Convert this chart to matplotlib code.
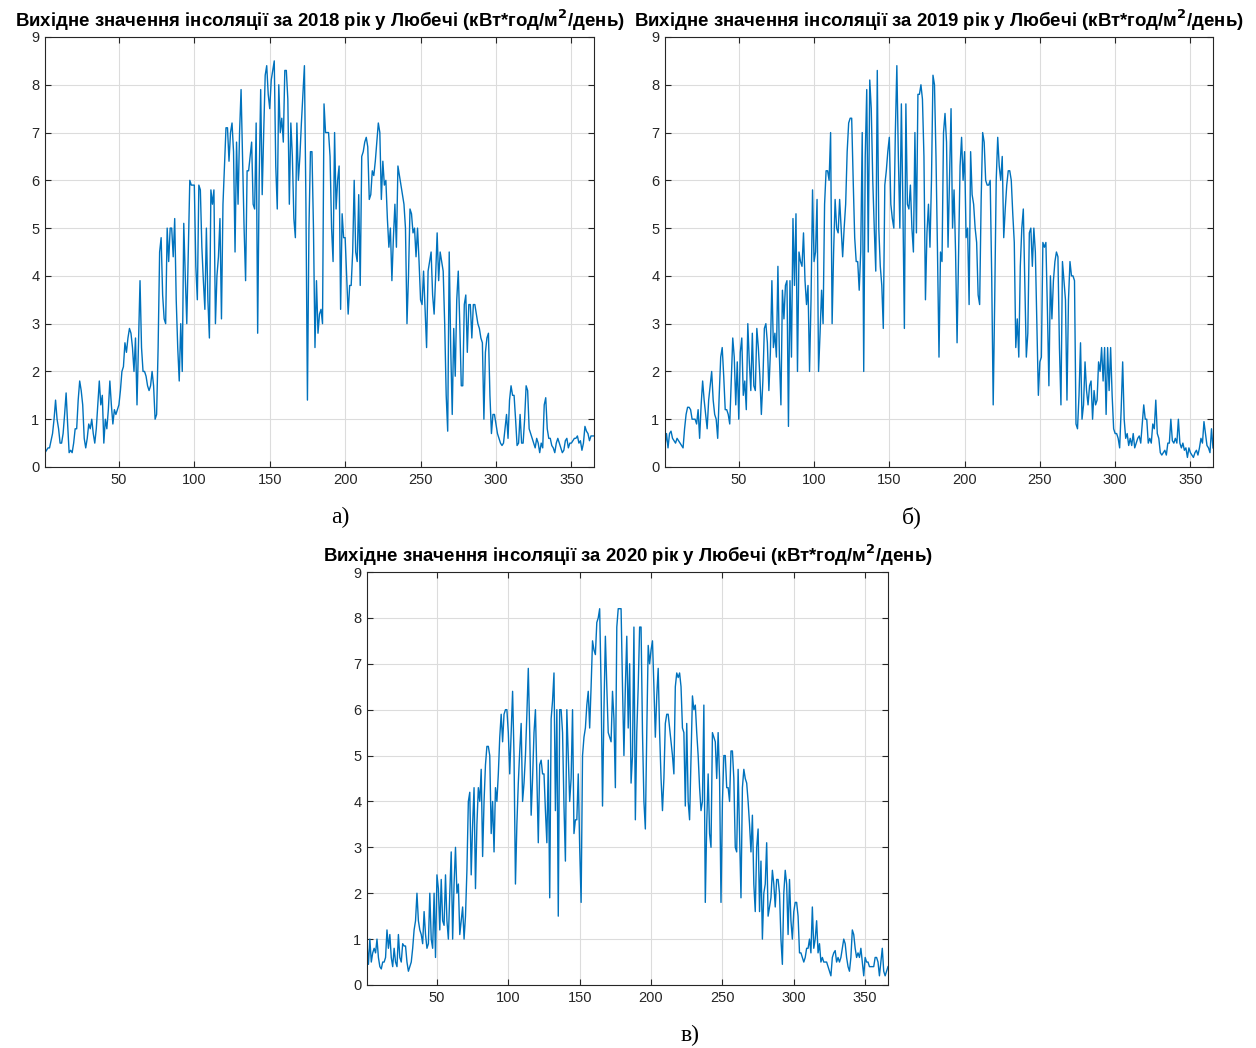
import numpy as np
import matplotlib
matplotlib.use("Agg")
import matplotlib.pyplot as plt

# --- Daily insolation, kWh/m^2/day ---
INS_2018 = [
    0.3, 0.35, 0.4, 0.4, 0.55, 0.7, 1.0, 1.4, 1.0, 0.8,
    0.5, 0.5, 0.7, 1.1, 1.55, 0.9, 0.3, 0.35, 0.3, 0.5,
    0.8, 0.8, 1.4, 1.8, 1.6, 1.3, 0.6, 0.4, 0.6, 0.9,
    0.8, 1.0, 0.7, 0.5, 0.8, 1.3, 1.8, 1.3, 1.5, 0.5,
    1.0, 0.8, 1.2, 1.8, 1.3, 0.9, 1.2, 1.1, 1.2, 1.3,
    1.6, 2.0, 2.1, 2.6, 2.4, 2.7, 2.9, 2.8, 2.5, 2.0,
    2.7, 1.3, 2.6, 3.9, 2.5, 2.0, 2.0, 1.9, 1.7, 1.6,
    1.7, 2.0, 1.7, 1.0, 1.1, 2.5, 4.5, 4.8, 3.6, 3.1,
    3.0, 5.0, 4.3, 5.0, 5.0, 4.4, 5.2, 3.5, 2.5, 1.8,
    3.0, 2.0, 5.1, 4.0, 3.0, 4.5, 6.0, 5.9, 5.9, 5.9,
    4.2, 3.5, 5.9, 5.8, 4.6, 3.9, 3.3, 5.0, 3.5, 2.7,
    5.8, 5.5, 5.8, 3.0, 4.0, 4.4, 5.2, 3.1, 5.5, 6.3,
    7.1, 7.1, 6.4, 7.0, 7.2, 6.6, 4.5, 6.8, 5.5, 7.0,
    7.9, 6.5, 5.0, 3.9, 6.2, 6.2, 6.5, 6.8, 5.5, 5.4,
    7.2, 2.8, 6.0, 7.9, 5.7, 7.0, 8.2, 8.4, 7.8, 7.5,
    8.1, 8.3, 8.5, 6.3, 5.4, 8.0, 7.0, 7.3, 6.8, 8.3,
    8.3, 7.7, 5.5, 7.2, 6.5, 5.2, 4.8, 7.2, 6.0, 6.5,
    7.2, 7.8, 8.4, 5.5, 1.4, 5.0, 6.6, 6.6, 5.0, 2.5,
    3.9, 2.8, 3.2, 3.3, 3.0, 7.6, 7.0, 7.0, 7.0, 6.5,
    5.0, 4.3, 7.0, 5.4, 6.0, 6.3, 3.3, 5.3, 4.8, 4.8,
    4.0, 3.2, 3.8, 3.8, 4.5, 6.0, 4.5, 4.3, 5.7, 3.8,
    6.5, 6.6, 6.8, 6.9, 6.7, 5.6, 5.7, 6.2, 6.1, 6.4,
    6.8, 7.2, 7.0, 5.6, 6.4, 5.9, 6.0, 5.2, 4.6, 5.0,
    3.9, 4.8, 5.5, 4.6, 6.3, 6.1, 5.9, 5.7, 5.5, 5.0,
    3.0, 4.0, 5.4, 5.3, 4.9, 5.0, 4.4, 5.0, 4.3, 3.5,
    3.4, 4.1, 3.3, 2.5, 4.1, 4.3, 4.5, 3.6, 3.2, 4.0,
    4.9, 3.9, 4.5, 4.3, 4.1, 3.0, 1.5, 0.75, 4.5, 2.5,
    1.1, 2.9, 1.9, 3.5, 4.1, 3.0, 1.7, 1.7, 3.4, 3.6,
    2.4, 3.4, 3.4, 2.7, 3.4, 3.4, 3.2, 3.0, 2.9, 2.7,
    2.6, 1.0, 2.4, 2.7, 2.8, 1.5, 0.7, 1.1, 1.1, 0.9,
    0.7, 0.6, 0.5, 0.45, 0.5, 0.8, 1.1, 0.6, 1.4, 1.7,
    1.5, 1.5, 1.0, 0.45, 0.5, 1.1, 0.5, 0.5, 1.0, 1.7,
    1.6, 0.8, 0.7, 0.6, 0.5, 0.4, 0.6, 0.5, 0.3, 0.5,
    0.4, 1.3, 1.45, 0.8, 0.6, 0.6, 0.45, 0.4, 0.3, 0.5,
    0.6, 0.5, 0.4, 0.3, 0.35, 0.55, 0.6, 0.4, 0.5, 0.5,
    0.55, 0.6, 0.6, 0.65, 0.5, 0.55, 0.35, 0.5, 0.85, 0.75,
    0.7, 0.55, 0.65, 0.65, 0.65,
]

INS_2019 = [
    0.45, 0.7, 0.4, 0.7, 0.75, 0.6, 0.55, 0.5, 0.6, 0.55,
    0.5, 0.45, 0.4, 0.8, 1.1, 1.25, 1.25, 1.2, 1.0, 1.0,
    1.0, 0.9, 1.2, 0.6, 1.3, 1.8, 1.4, 1.1, 0.8, 1.4,
    1.7, 2.0, 1.4, 1.1, 1.0, 0.6, 1.5, 2.3, 2.5, 1.9,
    1.2, 1.2, 1.1, 0.9, 1.8, 2.7, 2.3, 1.3, 2.2, 1.0,
    2.4, 2.7, 1.5, 1.8, 1.2, 3.0, 2.2, 1.6, 2.8, 1.7,
    1.6, 2.9, 2.5, 1.9, 1.1, 1.8, 2.9, 3.0, 2.6, 1.6,
    2.4, 3.9, 2.5, 2.8, 2.3, 4.2, 2.3, 1.3, 3.7, 3.1,
    3.8, 3.9, 0.85, 3.9, 2.3, 5.2, 3.8, 5.3, 2.0, 4.5,
    4.3, 4.2, 4.9, 3.9, 3.4, 3.8, 2.0, 3.5, 5.8, 4.3,
    4.5, 5.6, 2.0, 2.8, 3.7, 3.0, 5.5, 6.2, 6.2, 6.0,
    7.0, 3.0, 4.5, 5.6, 5.0, 4.9, 5.6, 5.0, 4.4, 5.0,
    5.5, 6.6, 7.2, 7.3, 7.3, 6.0, 4.8, 4.3, 4.3, 3.7,
    4.5, 7.0, 2.0, 6.5, 7.9, 4.5, 8.1, 7.5, 6.0, 5.0,
    4.1, 8.3, 5.0, 4.2, 3.8, 2.9, 5.9, 6.2, 6.6, 6.9,
    5.5, 5.2, 5.0, 7.0, 8.4, 6.5, 5.0, 7.6, 5.5, 2.9,
    7.6, 5.5, 5.4, 5.9, 5.0, 4.5, 7.0, 4.9, 7.8, 7.8,
    8.0, 7.7, 6.5, 3.5, 4.9, 5.5, 4.6, 6.0, 8.2, 8.0,
    6.5, 4.5, 2.3, 4.5, 4.3, 7.0, 7.4, 6.8, 4.6, 6.0,
    7.5, 5.0, 5.8, 4.5, 2.6, 4.5, 6.3, 6.9, 6.0, 6.6,
    4.8, 5.0, 3.4, 6.6, 5.7, 5.5, 5.0, 4.7, 3.6, 3.4,
    5.6, 7.0, 6.8, 6.0, 5.9, 5.9, 6.0, 4.0, 1.3, 3.5,
    6.0, 6.9, 6.3, 6.0, 6.5, 4.8, 5.4, 5.9, 6.2, 6.2,
    6.0, 5.3, 4.7, 2.5, 3.1, 2.3, 4.2, 5.0, 5.4, 3.8,
    2.3, 2.8, 4.9, 5.0, 4.2, 5.0, 4.5, 3.0, 1.5, 2.2,
    2.3, 4.7, 4.6, 4.7, 3.3, 1.7, 4.0, 3.1, 3.9, 4.3,
    4.5, 4.4, 2.5, 1.3, 4.3, 3.9, 3.5, 1.4, 3.5, 4.3,
    4.0, 4.0, 3.9, 0.9, 0.8, 1.5, 2.6, 1.0, 1.3, 2.2,
    1.6, 1.3, 1.7, 1.8, 1.0, 1.6, 1.3, 1.4, 2.2, 2.0,
    2.5, 1.8, 2.5, 1.1, 2.5, 1.6, 2.5, 1.5, 0.8, 0.7,
    0.7, 0.6, 0.4, 1.2, 2.2, 1.0, 0.6, 0.7, 0.45, 0.6,
    0.45, 0.7, 0.4, 0.5, 0.6, 0.65, 0.5, 0.9, 1.3, 1.0,
    1.0, 0.5, 0.6, 0.5, 0.9, 0.8, 1.4, 0.7, 0.6, 0.3,
    0.25, 0.3, 0.35, 0.25, 0.5, 0.5, 1.0, 0.55, 0.5, 0.6,
    0.5, 1.0, 0.5, 0.4, 0.5, 0.35, 0.4, 0.2, 0.4, 0.3,
    0.25, 0.2, 0.3, 0.35, 0.25, 0.4, 0.6, 0.5, 0.95, 0.7,
    0.45, 0.4, 0.3, 0.8, 0.4,
]

INS_2020 = [
    0.9, 0.45, 1.0, 0.5, 0.7, 0.8, 0.7, 1.0, 0.6, 0.4,
    0.35, 0.5, 0.5, 0.6, 1.2, 0.8, 1.1, 0.6, 0.4, 0.8,
    0.5, 0.4, 1.1, 0.6, 0.5, 0.9, 0.85, 0.85, 0.5, 0.3,
    0.4, 0.5, 0.8, 1.2, 1.4, 2.0, 1.4, 1.2, 1.1, 0.9,
    1.6, 1.1, 0.8, 0.9, 2.0, 1.0, 0.8, 2.0, 0.6, 2.4,
    2.1, 1.2, 2.3, 1.4, 1.3, 2.4, 1.4, 1.0, 2.0, 2.9,
    1.0, 2.2, 3.0, 2.0, 2.2, 1.1, 1.4, 1.7, 1.0, 1.5,
    2.5, 4.0, 4.2, 2.4, 3.5, 4.3, 2.1, 3.5, 4.3, 4.0,
    4.7, 2.8, 4.0, 4.8, 5.2, 5.2, 5.0, 3.3, 4.0, 2.9,
    4.3, 4.0, 4.6, 5.4, 5.9, 5.3, 5.9, 6.0, 6.0, 5.5,
    4.6, 5.5, 6.4, 5.0, 2.2, 3.5, 4.4, 5.1, 5.7, 4.0,
    4.4, 5.0, 5.9, 6.9, 5.5, 3.7, 4.5, 5.5, 6.0, 4.5,
    3.1, 4.8, 4.9, 4.6, 4.6, 3.8, 3.1, 4.9, 1.9, 5.8,
    6.2, 6.8, 3.8, 6.0, 1.5, 6.0, 6.0, 5.5, 3.9, 2.7,
    6.0, 5.0, 4.0, 4.5, 6.0, 3.3, 3.6, 3.6, 4.6, 3.0,
    1.8, 5.0, 5.4, 5.6, 6.1, 6.4, 5.6, 6.5, 7.5, 7.3,
    7.2, 7.9, 8.0, 8.2, 6.5, 3.9, 6.0, 7.6, 6.5, 5.5,
    5.4, 5.3, 6.4, 5.8, 4.3, 7.8, 8.2, 8.2, 8.2, 6.5,
    5.0, 6.5, 7.6, 5.6, 7.0, 4.4, 5.0, 7.8, 3.6, 5.5,
    6.5, 7.8, 7.8, 5.5, 4.0, 3.4, 5.5, 7.4, 7.0, 7.3,
    7.5, 6.5, 5.4, 6.3, 6.9, 5.5, 4.5, 3.8, 4.5, 5.7,
    5.9, 5.9, 5.6, 5.3, 5.0, 4.6, 6.5, 6.8, 6.7, 6.8,
    6.5, 5.6, 5.5, 3.9, 5.7, 4.0, 3.6, 5.0, 6.3, 6.0,
    6.1, 5.5, 5.0, 4.3, 3.8, 4.0, 6.1, 1.8, 3.5, 4.6,
    3.3, 3.0, 5.5, 5.4, 5.3, 4.5, 5.5, 4.5, 1.8, 4.0,
    5.0, 5.0, 4.3, 4.3, 4.0, 5.1, 5.1, 4.5, 3.0, 2.9,
    4.7, 3.3, 1.9, 4.3, 4.7, 4.5, 4.4, 4.0, 3.5, 2.9,
    3.7, 2.2, 1.6, 3.0, 3.4, 1.6, 2.7, 1.0, 2.0, 2.2,
    3.1, 1.5, 1.7, 1.9, 2.5, 2.2, 1.7, 2.3, 2.3, 2.0,
    1.0, 0.45, 2.0, 2.5, 2.2, 1.1, 2.3, 1.4, 1.0, 1.6,
    1.8, 1.8, 1.5, 0.7, 0.7, 0.6, 0.5, 0.6, 0.8, 0.8,
    1.0, 0.7, 1.7, 0.8, 1.0, 1.4, 0.7, 0.9, 0.5, 0.6,
    0.5, 0.5, 0.5, 0.4, 0.3, 0.2, 0.6, 0.7, 0.75, 0.5,
    0.6, 0.5, 0.6, 0.8, 1.0, 0.9, 0.6, 0.4, 0.3, 0.6,
    1.2, 1.1, 0.8, 0.6, 0.7, 0.6, 0.8, 0.5, 0.2, 0.6,
    0.5, 0.5, 0.4, 0.4, 0.4, 0.4, 0.6, 0.6, 0.5, 0.2,
    0.5, 0.8, 0.3, 0.2, 0.3, 0.4,
]

YEARS = [2018, 2019, 2020]
PANEL_LABELS = ["а)", "б)", "в)"]
X_TICKS = [50, 100, 150, 200, 250, 300, 350]
Y_TICKS = [0, 1, 2, 3, 4, 5, 6, 7, 8, 9]

LINE_COLOR = "#0072BD"
TEXT_COLOR = "#262626"

W, H = 1256, 1048
fig = plt.figure(figsize=(W / 100, H / 100), dpi=100)
plt.rcParams["font.family"] = ["Liberation Sans", "DejaVu Sans"]


def px_axes(left, top, right, bottom):
    return fig.add_axes([left / W, 1 - bottom / H, (right - left) / W, (bottom - top) / H])


boxes = [(45, 37, 594, 467), (665, 37, 1213, 467), (367, 572, 888, 985)]
label_pos = [(340, 517), (912, 517), (690, 1035)]

for year, series, box, lab, lpos in zip(YEARS, [INS_2018, INS_2019, INS_2020],
                                        boxes, PANEL_LABELS, label_pos):
    ax = px_axes(*box)
    days = np.arange(1, len(series) + 1)
    ax.plot(days, series, color=LINE_COLOR, lw=1.0)
    ax.set_xlim(1, len(series))
    ax.set_ylim(0, 9)
    ax.set_xticks(X_TICKS)
    ax.set_yticks(Y_TICKS)
    ax.grid(True, color="#dcdcdc", lw=0.8)
    ax.set_axisbelow(True)
    ax.tick_params(direction="in", length=4, top=True, right=True,
                   labelsize=10.5, colors=TEXT_COLOR, pad=4)
    for s in ax.spines.values():
        s.set_color(TEXT_COLOR)
        s.set_linewidth(0.8)
    ax.set_title(f"Вихідне значення інсоляції за {year} рік у Любечі (кВт*год/м$^\\mathbf{{2}}$/день)",
                 fontsize=13.4, fontweight="bold", color="black", pad=7)
    fig.text(lpos[0] / W, 1 - lpos[1] / H, lab, ha="center", va="center",
             fontsize=17, family="Liberation Serif")

fig.savefig("out.png", dpi=100)
